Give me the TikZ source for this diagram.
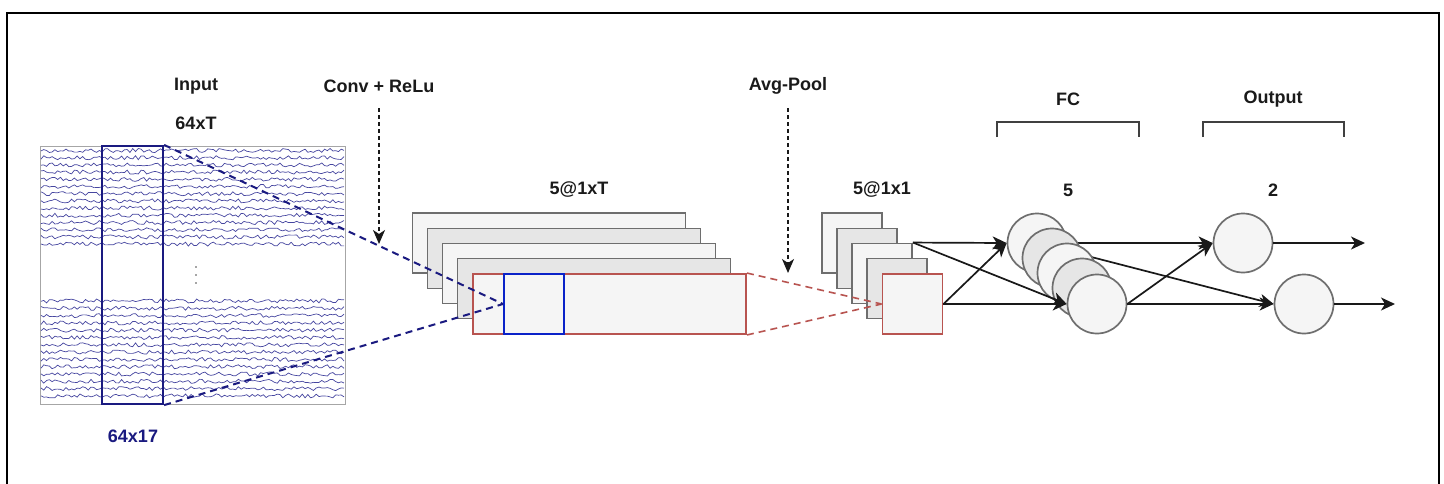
\documentclass[tikz,border=0pt]{standalone}
\usepackage{fontspec}
\setmainfont{Liberation Sans}
\usetikzlibrary{arrows.meta,backgrounds}
\definecolor{boxgray}{HTML}{6E6E6E}
\definecolor{lightfill}{HTML}{F5F5F5}
\definecolor{darkfill}{HTML}{E6E6E6}
\definecolor{redline}{HTML}{B85450}
\definecolor{navyline}{HTML}{1A1A80}
\definecolor{bluesq}{HTML}{0A22C8}
\definecolor{eegc}{HTML}{4646A0}
\definecolor{txt}{HTML}{1A1A1A}
\tikzset{
  lbl/.style={font=\bfseries\fontsize{18}{21}\selectfont, text=txt, inner sep=0pt},
  fmap/.style={draw=boxgray, line width=1.9pt, inner sep=0pt, minimum width=273pt, minimum height=60pt},
  sq/.style={draw=boxgray, line width=1.9pt, inner sep=0pt, minimum width=60pt, minimum height=60pt},
  neuron/.style={circle, draw=boxgray, line width=1.7pt, fill=lightfill, inner sep=0pt, minimum size=59pt},
  conn/.style={draw=black!90, line width=1.7pt, -{Stealth[length=14pt,width=13pt,inset=4pt]}},
  hint/.style={draw=black!90, line width=1.5pt, dash pattern=on 4pt off 3pt, -{Stealth[length=14pt,width=12pt,inset=4pt]}},
  navydash/.style={draw=navyline, line width=2pt, dash pattern=on 7pt off 5pt},
  reddash/.style={draw=redline, line width=1.6pt, dash pattern=on 7pt off 5pt},
}
\begin{document}
\begin{tikzpicture}[x=1pt,y=-1pt]
\useasboundingbox (0,0) rectangle (1444,483);
\clip (0,0) rectangle (1444,483);
% outer frame
\draw[line width=1.6pt] (7,500) -- (7,13) -- (1439,13) -- (1439,500);

% ---------- EEG input ----------
\node[draw=black!35, line width=1pt, fill=white, inner sep=0pt, minimum width=305pt, minimum height=258pt] (eeg) at (192.5,275) {};
\pgfmathsetseed{7}
\foreach \k in {0,...,13}{
  \draw[eegc, line width=0.7pt] plot[domain=41:344, samples=110] (\x, {150.5+7.2*\k + 2*rand});
}
\foreach \k in {0,...,13}{
  \draw[eegc, line width=0.7pt] plot[domain=41:344, samples=110] (\x, {301+7.3*\k + 2*rand});
}
\fill[black!70] (196,267) circle (0.9pt) (196,275) circle (0.9pt) (196,283) circle (0.9pt);
\node[draw=navyline, line width=2.2pt, inner sep=0pt, minimum width=61pt, minimum height=258pt] (win) at (132.5,275) {};

\node[lbl] (tin) at (196,86) {Input};
\node[lbl] (tdim) at (196,123) {64xT};
\node[lbl, text=navyline] (twin) at (133,436) {64x17};
\node[lbl] (tconv) at (379,86) {Conv + ReLu};
\node[lbl] (tpool) at (788,86) {Avg-Pool};
\node[lbl] (tfm) at (579,190) {5@1xT};
\node[lbl] (tsq) at (882,190) {5@1x1};
\node[lbl] (tfc) at (1068,99) {FC};
\node[lbl] (tout) at (1273,99) {Output};
\node[lbl] (tfcn) at (1068,190) {5};
\node[lbl] (toutn) at (1273,190) {2};

% brackets
\draw[line width=1.5pt, black!75] (997,137) -- (997,122) -- (1139,122) -- (1139,137);
\draw[line width=1.5pt, black!75] (1203,137) -- (1203,122) -- (1344,122) -- (1344,137);

% ---------- feature maps ----------
\node[fmap, fill=lightfill] (f1) at (549,243) {};
\node[fmap, fill=darkfill] (f2) at (564,258.5) {};
\node[fmap, fill=lightfill] (f3) at (579,273.5) {};
\node[fmap, fill=darkfill] (f4) at (594,288.5) {};
\node[fmap, fill=lightfill, draw=redline] (f5) at (609.5,304) {};
\node[draw=bluesq, line width=2pt, inner sep=0pt, minimum width=60pt, minimum height=60pt] (kern) at (534,304) {};

% ---------- pooled maps ----------
\node[sq, fill=lightfill] (s1) at (852,243) {};
\node[sq, fill=darkfill] (s2) at (867,258.5) {};
\node[sq, fill=lightfill] (s3) at (882,273.5) {};
\node[sq, fill=darkfill] (s4) at (897,288.5) {};
\node[sq, fill=lightfill, draw=redline] (s5) at (912.5,304) {};

% dashed projections
\draw[navydash] (win.north east) -- (kern.west);
\draw[navydash] (win.south east) -- (kern.west);
\draw[reddash] (f5.north east) -- (s5.west);
\draw[reddash] (f5.south east) -- (s5.west);

% operation hints
\coordinate (convtop) at (379,108);
\coordinate (convend) at (379,244);
\coordinate (pooltop) at (788,108);
\coordinate (poolend) at (788,273);
\draw[hint] (convtop) -- (convend);
\draw[hint] (pooltop) -- (poolend);

% ---------- FC layer ----------
\node[neuron] (c1) at (1037,243) {};
\node[neuron, fill=darkfill] (c2) at (1052,258) {};
\node[neuron] (c3) at (1067,273) {};
\node[neuron, fill=darkfill] (c4) at (1082,288) {};
\node[neuron] (c5) at (1097,304) {};

% ---------- output layer ----------
\node[neuron] (o1) at (1243,243) {};
\node[neuron] (o2) at (1304,304) {};
\coordinate (e1) at (1365,243);
\coordinate (e2) at (1395,304);

\begin{scope}[on background layer]
\fill[white] (0,0) rectangle (1444,483);
\draw[conn] (c1.east) -- (o1.west);
\draw[conn] (c1) -- (o2.west);
\end{scope}

\draw[conn] (s3.north east) -- (c1.west);
\draw[conn] (s3.north east) -- (c5.west);
\draw[conn] (s5.east) -- (c1.west);
\draw[conn] (s5.east) -- (c5.west);
\draw[conn] (c5.east) -- (o2.west);
\draw[conn] (c5.east) -- (o1.west);
\draw[conn] (o1.east) -- (e1);
\draw[conn] (o2.east) -- (e2);
\end{tikzpicture}
\end{document}
